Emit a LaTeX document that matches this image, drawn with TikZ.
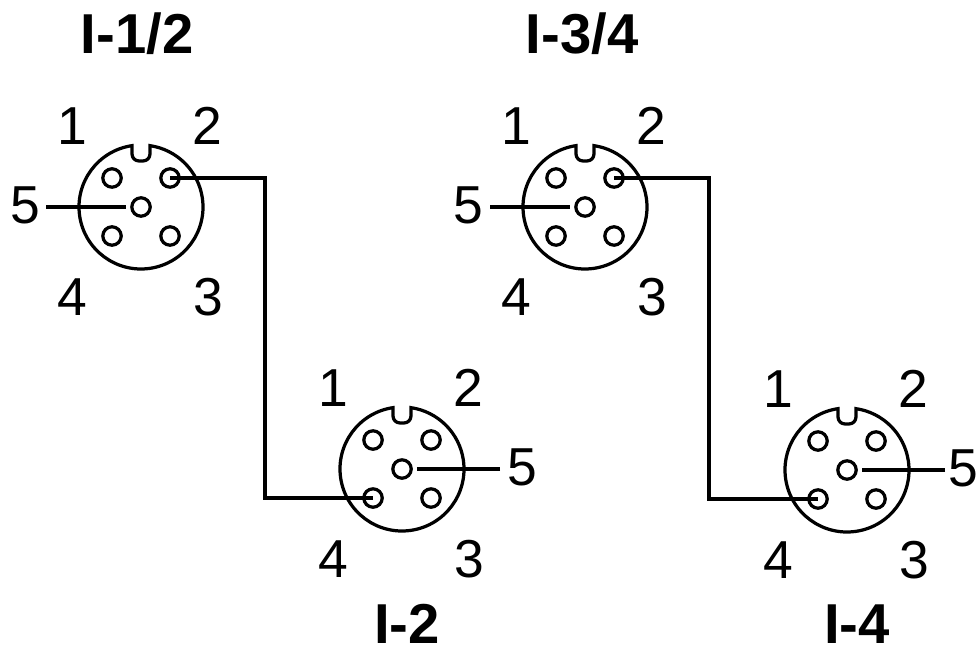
\documentclass[tikz,border=0pt]{standalone}
\usepackage{fontspec}
\setmainfont{Liberation Sans}

\tikzset{
    pinhole/.style={circle,draw,inner sep=0pt,minimum size=0.46cm},
    num/.style={font=\fontsize{38}{38}\selectfont,inner sep=0pt},
    title/.style={font=\fontsize{40}{40}\selectfont\bfseries,inner sep=0pt},
    plug/.pic={
        \draw (98.3:62) arc (98.3:441.7:62)
            [rounded corners=5pt] -- (9,46) -- (-9,46) [sharp corners] -- cycle;
        \node [pinhole] (-p1) at (-29,29) {};
        \node [pinhole] (-p2) at (29,29) {};
        \node [pinhole] (-p3) at (29,-29) {};
        \node [pinhole] (-p4) at (-29,-29) {};
        \node [pinhole] (-p5) at (0,0) {};
        \node [num] (-n1) at (-69,81) {1};
        \node [num] (-n2) at (66,81) {2};
        \node [num] (-n3) at (67,-90) {3};
        \node [num] (-n4) at (-69,-90) {4};
    }
}

\begin{document}
\begin{tikzpicture}[x=0.025cm,y=0.025cm,line width=2.3pt]

\useasboundingbox (0,0) rectangle (979,653);

\pic (a) at (141,446) {plug};
\pic (b) at (402,184) {plug};
\pic (c) at (585,446) {plug};
\pic (d) at (847,183) {plug};

\node [title] (ta) at (137,619) {I-1/2};
\node [title] (tb) at (407,29) {I-2};
\node [title] (tc) at (582,619) {I-3/4};
\node [title] (td) at (857,29) {I-4};

% pin 5 leads
\node [num] (a5) at (25,448) {5};
\node [num] (b5) at (522,186) {5};
\node [num] (c5) at (468,448) {5};
\node [num] (d5) at (963,185) {5};

\coordinate (aend) at (46,446);
\coordinate (bend) at (500,184);
\coordinate (cend) at (490,446);
\coordinate (dend) at (945,183);

\draw [shorten >=3pt] (aend) -- (a-p5);
\draw [shorten >=3pt] (bend) -- (b-p5);
\draw [shorten >=3pt] (cend) -- (c-p5);
\draw [shorten >=3pt] (dend) -- (d-p5);

% pin 2 to pin 4
\coordinate (ab) at (265,300);
\coordinate (cd) at (709,300);

\draw (a-p2.center) -| (ab) |- (b-p4.center);
\draw (c-p2.center) -| (cd) |- (d-p4.center);

\end{tikzpicture}
\end{document}
